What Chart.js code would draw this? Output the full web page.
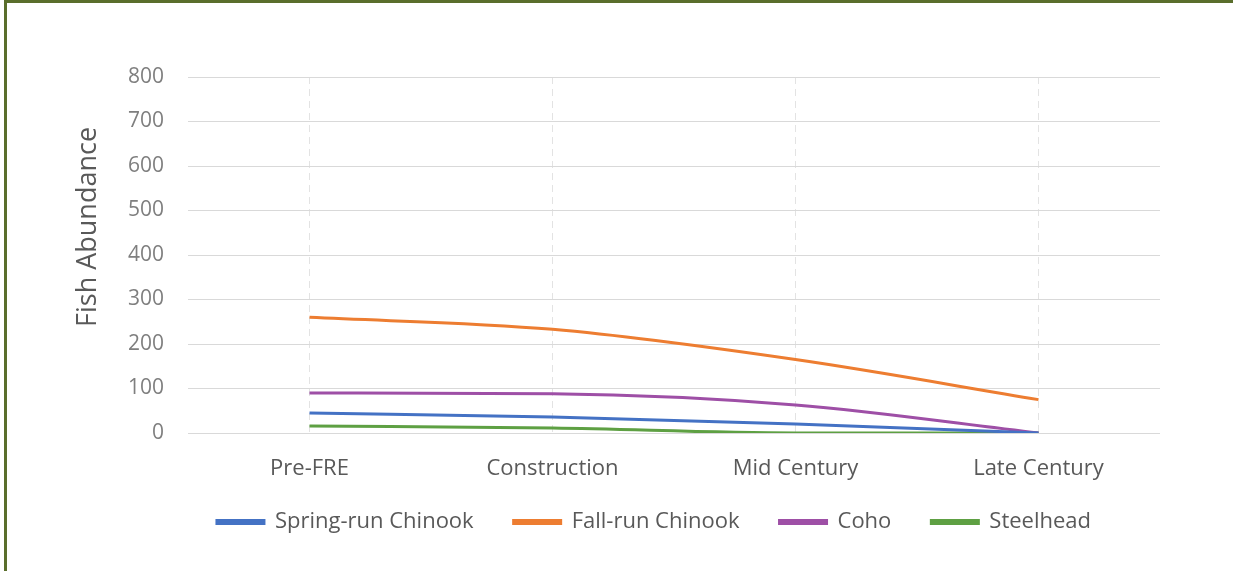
<!DOCTYPE html>
<html>
<head>
<meta charset="utf-8">
<script src="https://cdn.jsdelivr.net/npm/chart.js@4.4.1/dist/chart.umd.min.js"></script>
<style>
  html, body { margin: 0; padding: 0; background: #ffffff; }
  body { width: 1233px; height: 571px; overflow: hidden; position: relative; }
  #frame {
    position: absolute; left: 4px; top: 0; width: 1229px; height: 571px;
    border-top: 3px solid #5a6e2c; border-left: 3px solid #5a6e2c;
    box-sizing: border-box; background: #fff;
  }
  #wrap { position: absolute; left: 7px; top: 3px; width: 1226px; height: 568px; }
</style>
</head>
<body>
<div id="frame"></div>
<div id="wrap"><canvas id="chart"></canvas></div>
<script>
// Periods on the x axis
const periods = ['Pre-FRE', 'Construction', 'Mid Century', 'Late Century'];

// Abundance per species and period
const springRunChinook = [45, 36, 20, 0];
const fallRunChinook   = [260, 233, 165, 75];
const coho             = [90, 88, 63, 0];
const steelhead        = [16, 11, 0, 0];

// Y axis ticks
const yTicks = [0, 100, 200, 300, 400, 500, 600, 700, 800];

const FONT = "'Open Sans', 'Noto Sans', sans-serif";

function series(label, data, color) {
  return {
    label, data,
    borderColor: color,
    backgroundColor: color,
    borderWidth: 3,
    pointRadius: 0,
    cubicInterpolationMode: 'monotone',
    fill: false
  };
}

// Place the legend row under the plot area, a little closer to the axis labels
const legendUnderPlot = {
  id: 'legendUnderPlot',
  afterLayout(chart) {
    const lg = chart.legend;
    if (!lg) return;
    const dx = (chart.chartArea.left + chart.chartArea.right) / 2 - 20 - (lg.left + lg.right) / 2;
    const dy = -14;
    lg.left += dx; lg.right += dx;
    lg.top += dy; lg.bottom += dy;
  }
};

new Chart(document.getElementById('chart'), {
  type: 'line',
  data: {
    labels: periods,
    datasets: [
      series('Spring-run Chinook', springRunChinook, '#4472c4'),
      series('Fall-run Chinook', fallRunChinook, '#ed7d31'),
      series('Coho', coho, '#9e4fa6'),
      series('Steelhead', steelhead, '#5ea043')
    ]
  },
  plugins: [legendUnderPlot],
  options: {
    responsive: true,
    maintainAspectRatio: false,
    animation: false,
    layout: { padding: { top: 74, right: 73, left: 0, bottom: 14 } },
    plugins: {
      tooltip: { enabled: false },
      legend: {
        position: 'bottom',
        labels: {
          boxWidth: 47,
          boxHeight: 3,
          padding: 40,
          color: '#595959',
          font: { family: FONT, size: 22 }
        }
      }
    },
    scales: {
      x: {
        offset: true,
        grid: { offset: false, color: '#e3e3e3', drawTicks: false, lineWidth: 1 },
        border: { display: false, dash: [7, 5] },
        ticks: {
          color: '#595959',
          padding: 23,
          font: { family: FONT, size: 22 }
        },
        afterFit: (s) => { s.height = 52; }
      },
      y: {
        min: 0, max: 800,
        afterBuildTicks: (s) => { s.ticks = yTicks.map(v => ({ value: v })); },
        grid: { color: '#d9d9d9', drawTicks: false, lineWidth: 1 },
        border: { display: false },
        ticks: {
          color: '#7f7f7f',
          padding: 24,
          font: { family: FONT, size: 21 }
        },
        title: {
          display: true,
          text: '        Fish Abundance',
          color: '#595959',
          padding: { top: 65, bottom: 0 },
          font: { family: FONT, size: 27 }
        },
        afterFit: (s) => { s.width = 181; }
      }
    }
  }
});
</script>
</body>
</html>
